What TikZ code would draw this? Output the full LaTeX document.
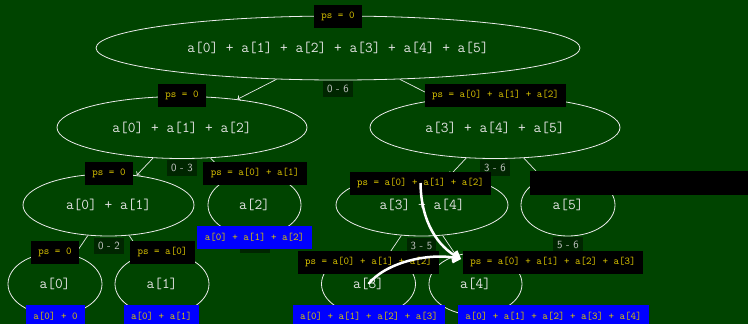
\documentclass[tikz,border=0pt]{standalone}
\usepackage{fontspec}
\usetikzlibrary{shapes.geometric,arrows.meta}
\definecolor{bg}{RGB}{0,68,0}
\definecolor{rangebg}{RGB}{0,38,0}
\definecolor{psyellow}{RGB}{218,196,0}
\definecolor{nodetext}{RGB}{228,228,228}
\definecolor{rangetext}{RGB}{200,200,200}
\definecolor{lineclr}{RGB}{235,235,235}
\tikzset{
  tree/.style={ellipse, draw=lineclr, line width=0.8pt, inner sep=0pt, text=nodetext,
    font=\ttfamily\fontsize{15}{18}\selectfont},
  psbox/.style={fill=black, text=psyellow, font=\ttfamily\fontsize{10.5}{12}\selectfont,
    inner xsep=7.5pt, inner ysep=0pt, minimum height=23pt},
  sumbox/.style={psbox, fill=blue},
  rangebox/.style={fill=rangebg, text=rangetext, font=\sffamily\fontsize{11}{13}\selectfont,
    inner xsep=4pt, inner ysep=0pt, minimum height=16pt},
  edge/.style={draw=lineclr, line width=0.7pt, -{To[length=3pt,width=6pt]}},
  flow/.style={draw=white, line width=2.5pt, -{Straight Barb[length=6pt,width=10pt]}},
}
\begin{document}
\begin{tikzpicture}[x=1pt,y=-1pt]
\fill[bg] (0,0) rectangle (748,324);
\useasboundingbox (0,0) rectangle (748,324);

% tree nodes
\node[tree, minimum width=484pt, minimum height=64pt] (root) at (338,48) {a[0] + a[1] + a[2] + a[3] + a[4] + a[5]};
\node[tree, minimum width=250pt, minimum height=62pt] (L) at (182,127.5) {a[0] + a[1] + a[2]};
\node[tree, minimum width=250pt, minimum height=62pt] (R) at (495,127.5) {a[3] + a[4] + a[5]};
\node[tree, minimum width=171pt, minimum height=62pt] (ab) at (108.5,205) {a[0] + a[1]};
\node[tree, minimum width=93pt, minimum height=62pt] (c2) at (254.5,205) {a[2]};
\node[tree, minimum width=172pt, minimum height=62pt] (de) at (422,205) {a[3] + a[4]};
\node[tree, minimum width=94pt, minimum height=62pt] (f5) at (568,205) {a[5]};
\node[tree, minimum width=94pt, minimum height=62pt] (a0) at (55,284) {a[0]};
\node[tree, minimum width=94pt, minimum height=62pt] (a1) at (162,284) {a[1]};
\node[tree, minimum width=94pt, minimum height=62pt] (a3) at (368.5,284) {a[3]};
\node[tree, minimum width=93pt, minimum height=62pt] (a4) at (475.5,284) {a[4]};

% edges
\draw[edge] (root) -- (L);
\draw[edge] (root) -- (R);
\draw[edge] (L) -- (ab);
\draw[edge] (L) -- (c2);
\draw[edge] (R) -- (de);
\draw[edge] (R) -- (f5);
\draw[edge] (ab) -- (a0);
\draw[edge] (ab) -- (a1);
\draw[edge] (de) -- (a3);
\draw[edge] (de) -- (a4);

% range labels
\node[rangebox] (rroot) at (338,89) {0 - 6};
\node[rangebox] (rL) at (182,168) {0 - 3};
\node[rangebox] (rR) at (495,168) {3 - 6};
\node[rangebox] (rab) at (109,245.5) {0 - 2};
\node[rangebox] (rc2) at (255,245) {2 - 3};
\node[rangebox] (rde) at (421.5,246) {3 - 5};
\node[rangebox] (rf5) at (568,245) {5 - 6};

% ps boxes
\node[psbox] (psroot) at (338,16) {ps = 0};
\node[psbox] (psL) at (182,95.5) {ps = 0};
\node[psbox] (psR) at (495.5,95) {ps = a[0] + a[1] + a[2]};
\node[psbox] (psab) at (109,173.5) {ps = 0};
\node[psbox] (psc2) at (255,173.5) {ps = a[0] + a[1]};
\node[psbox] (psde) at (420.5,183) {ps = a[0] + a[1] + a[2]};
\node[fill=black, anchor=west, minimum width=240pt, minimum height=24pt, inner sep=0pt] (psf5) at (530,183) {};
\node[psbox] (psa0) at (55,252.5) {ps = 0};
\node[psbox] (psa1) at (162.5,252) {ps = a[0]};
\node[psbox] (psa3) at (368.5,262) {ps = a[0] + a[1] + a[2]};
\node[psbox] (psa4) at (553,262) {ps = a[0] + a[1] + a[2] + a[3]};

% result boxes
\node[sumbox] (sc2) at (254.5,237.5) {a[0] + a[1] + a[2]};
\node[sumbox] (sa0) at (55.5,316.5) {a[0] + 0};
\node[sumbox] (sa1) at (161.5,316.5) {a[0] + a[1]};
\node[sumbox] (sa3) at (369,316.5) {a[0] + a[1] + a[2] + a[3]};
\node[sumbox] (sa4) at (553.5,316.5) {a[0] + a[1] + a[2] + a[3] + a[4]};

% flow arrows
\coordinate (tip) at ([xshift=-1.5pt,yshift=3pt]psa4.west);
\draw[flow] (psde.center) .. controls (421,222) and (438,247) .. (tip);
\draw[flow] (a3.center) .. controls (385,263) and (428,252) .. (tip);
\end{tikzpicture}
\end{document}
